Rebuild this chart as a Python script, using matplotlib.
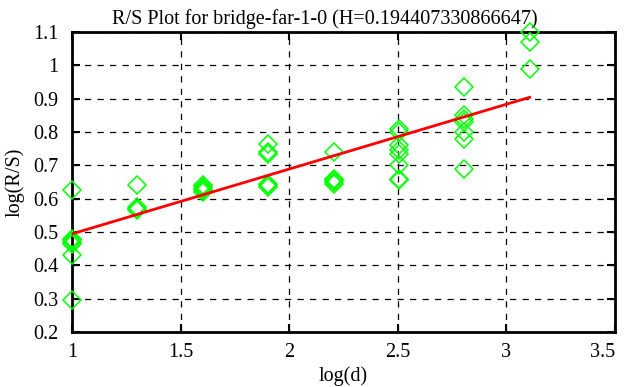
import numpy as np
import matplotlib
matplotlib.use("Agg")
import matplotlib.pyplot as plt
from matplotlib.ticker import FuncFormatter

plt.rcParams['font.family'] = ['Liberation Serif', 'DejaVu Serif']

title = "R/S Plot for bridge-far-1-0 (H=0.194407330866647)"
H = 0.194407330866647
intercept = 0.300

d_values = [10, 20, 40, 80, 160, 320, 640, 1280]
rs_groups = [
    [0.625, 0.48, 0.475, 0.47, 0.465, 0.43, 0.295],
    [0.64, 0.575, 0.57, 0.565],
    [0.64, 0.635, 0.63, 0.625, 0.62],
    [0.765, 0.74, 0.735, 0.645, 0.64, 0.635],
    [0.74, 0.66, 0.655, 0.65, 0.645],
    [0.81, 0.80, 0.76, 0.745, 0.735, 0.70, 0.66, 0.655],
    [0.935, 0.85, 0.84, 0.83, 0.80, 0.78, 0.69],
    [1.10, 1.07, 0.99],
]

xticks = [1, 1.5, 2, 2.5, 3, 3.5]
yticks = [0.2, 0.3, 0.4, 0.5, 0.6, 0.7, 0.8, 0.9, 1.0, 1.1]

fig = plt.figure(figsize=(6.26, 3.87), dpi=100)
ax = fig.add_axes([72/626, 1-332/387, (615-72)/626, (332-32)/387])

xs, ys = [], []
for d, grp in zip(d_values, rs_groups):
    for v in grp:
        xs.append(np.log10(d))
        ys.append(v)
ax.plot(xs, ys, linestyle='none', marker='D', markersize=9.5, markerfacecolor='none',
        markeredgecolor='#00ff00', markeredgewidth=1.1, zorder=3, clip_on=False)

lx = np.array([np.log10(d_values[0]), np.log10(d_values[-1])])
ax.plot(lx, intercept + H*lx, color='#ff0000', lw=2, zorder=4)

ax.set_xlim(1, 3.5)
ax.set_ylim(0.2, 1.1)
ax.set_xticks(xticks)
ax.set_yticks(yticks)
ax.xaxis.set_major_formatter(FuncFormatter(lambda v, p: '%g' % v))
ax.yaxis.set_major_formatter(FuncFormatter(lambda v, p: '%g' % round(v, 2)))
ax.grid(True, color='black', linestyle=(0, (5, 5)), linewidth=0.9)
ax.tick_params(direction='in', top=True, right=True, length=6, width=1.5,
               labelsize=14.5)
ax.tick_params(axis='y', pad=10)
ax.tick_params(axis='x', pad=8)
for s in ax.spines.values():
    s.set_linewidth(2)
ax.set_xlabel('log(d)', fontsize=14.5, labelpad=3)
ax.set_ylabel('log(R/S)', fontsize=14.5, labelpad=6)
ax.set_title(title, fontsize=14.5, pad=6, x=0.465)

fig.canvas.draw()
lbls = ax.get_xticklabels()
lbls[-1].set_horizontalalignment('right')
lbls[-1].set_x(3.5)

fig.savefig('out.png', dpi=100)
